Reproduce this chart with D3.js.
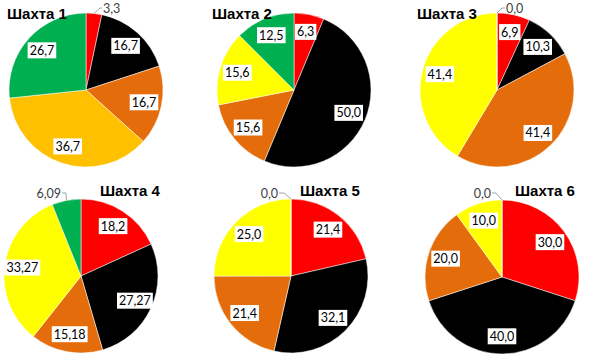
<!DOCTYPE html>
<html><head><meta charset="utf-8">
<script src="https://cdn.jsdelivr.net/npm/d3@7"></script>
<style>body{margin:0;background:#fff}svg{display:block}</style>
</head><body>
<svg id="c" width="600" height="360"></svg>
<script>
// ---- data ----
const titles = ["Шахта 1","Шахта 2","Шахта 3","Шахта 4","Шахта 5","Шахта 6"];
const categories = ["red","black","orange","yellow","green"];
const mine1 = [3.3, 16.7, 16.7, 36.7, 26.7];
const mine2 = [6.3, 50.0, 15.6, 15.6, 12.5];
const mine3 = [6.9, 10.3, 41.4, 41.4, 0.0];
const mine4 = [18.2, 27.27, 15.18, 33.27, 6.09];
const mine5 = [21.4, 32.1, 21.4, 25.0, 0.0];
const mine6 = [30.0, 40.0, 20.0, 10.0, 0.0];
const series = [mine1, mine2, mine3, mine4, mine5, mine6];

// ---- layout / style ----
const colorsA = {red:"#FF0000",black:"#000000",orange:"#E46C0A",yellow:"#FFFF00",green:"#00B050"};
const yellowOverride = ["#FFC000",null,null,null,null,null];
const layout = [
  {cx:86, cy:90, tx:7,   ty:19, out:{i:0, lx:103, ly:8, a:"start", pts:[[100,8],[102,8]]}},
  {cx:294,cy:90, tx:212, ty:19, out:null},
  {cx:497,cy:90, tx:417, ty:19, out:{i:4, lx:506, ly:8, a:"start", pts:[[502,8],[505,8]]}},
  {cx:81, cy:276,tx:100, ty:196, out:{i:4, lx:61, ly:193, a:"end", pts:[[66,193],[62,193]]}},
  {cx:291,cy:276,tx:300, ty:196, out:{i:4, lx:278, ly:193, a:"end", pts:[[284,193],[279,193]]}},
  {cx:502,cy:277,tx:515, ty:196, out:{i:4, lx:491, ly:193, a:"end", pts:[[496,193],[492,193]]}}
];
const R = 77;

const fmt = v => {
  const s = String(v);
  const dec = s.includes(".") ? s.split(".")[1].length : 0;
  return v.toFixed(Math.max(1, dec)).replace(".", ",");
};

const svg = d3.select("#c");
const pie = d3.pie().sort(null).value(d => d.v);
const arc = d3.arc().innerRadius(0).outerRadius(R);
const labelArc = d3.arc().innerRadius(R*0.77).outerRadius(R*0.77);

series.forEach((vals, k) => {
  const L = layout[k];
  const data = vals.map((v,i) => ({v, c: categories[i]}));
  const arcs = pie(data);
  const g = svg.append("g").attr("transform", `translate(${L.cx},${L.cy})`);
  g.selectAll("path").data(arcs).join("path")
    .attr("d", arc)
    .attr("fill", d => (d.data.c === "yellow" && yellowOverride[k]) ? yellowOverride[k] : colorsA[d.data.c])
    .attr("stroke", "#fff").attr("stroke-width", 0.5);

  arcs.forEach((d, i) => {
    if (L.out && L.out.i === i) return;
    const [x, y] = labelArc.centroid(d);
    const lg = g.append("g").attr("transform", `translate(${x},${y})`);
    const t = lg.append("text").text(fmt(d.data.v))
      .attr("text-anchor","middle").attr("dy","0.36em")
      .attr("font-family","Lato, 'Open Sans', sans-serif").attr("font-size",12.5).attr("fill","#000");
    const bb = t.node().getBBox();
    lg.insert("rect","text").attr("x", bb.x-2).attr("y", bb.y-0.5).attr("width", bb.width+4).attr("height", bb.height+1)
      .attr("fill","#fff");
  });

  if (L.out) {
    const d = arcs[L.out.i];
    const a = (d.startAngle + d.endAngle)/2;
    const p0 = [L.cx + R*Math.sin(a), L.cy - R*Math.cos(a)];
    const pts = [p0].concat(L.out.pts);
    svg.append("path").attr("d", d3.line()(pts)).attr("fill","none").attr("stroke","#8c8c8c").attr("stroke-width",0.8);
    svg.append("text").text(fmt(d.data.v)).attr("x", L.out.lx).attr("y", L.out.ly).attr("dy","0.36em")
      .attr("text-anchor", L.out.a).attr("font-family","Lato, 'Open Sans', sans-serif").attr("font-size",12.5).attr("fill","#404040");
  }

  svg.append("text").text(titles[k]).attr("x", L.tx).attr("y", L.ty)
    .attr("font-family","'Liberation Sans', Arial, sans-serif").attr("font-weight","bold").attr("font-size",15).attr("fill","#000");
});
</script>
</body></html>
